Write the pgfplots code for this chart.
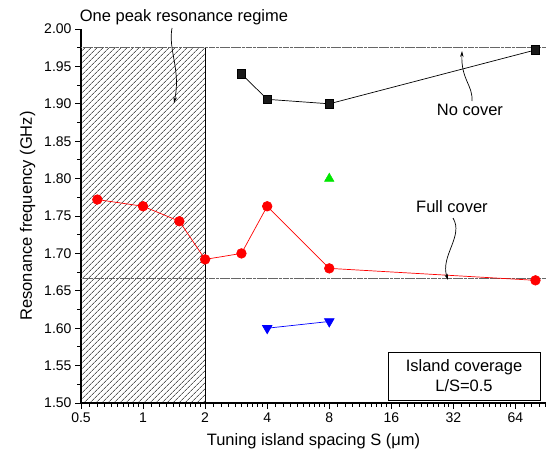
\documentclass[border=0pt]{standalone}
\usepackage{pgfplots}
\pgfplotsset{compat=1.18}
\usepackage{fontspec}
\setmainfont{Liberation Sans}
\usetikzlibrary{patterns.meta,arrows.meta}
\definecolor{mygreen}{RGB}{0,230,0}
\pgfplotsset{every tick/.style={black, line width=0.9pt}}
\begin{document}
\begin{tikzpicture}
\begin{axis}[
 scale only axis, width=465pt, height=374pt,
 xmode=log, log basis x=2, xmin=0.5, xmax=90,
 ymin=1.5, ymax=2.0,
 axis lines=left,
 axis line style={-, line width=1.1pt},
 xtick={0.5,1,2,4,8,16,32,64}, xticklabels={0.5,1,2,4,8,16,32,64},
 ytick={1.5,1.55,1.6,1.65,1.7,1.75,1.8,1.85,1.9,1.95,2.0},
 yticklabel style={/pgf/number format/.cd,fixed,fixed zerofill,precision=2},
 /pgf/number format/assume math mode=true,
 tick align=outside,
 major tick length=6pt, minor tick length=3.5pt,
 ticklabel style={font=\fontsize{14}{16}\selectfont},
 label style={font=\fontsize{16.5}{19}\selectfont},
 xlabel={Tuning island spacing S (μm)},
 ylabel={Resonance frequency (GHz)},
 xlabel style={yshift=-4pt},
 ylabel style={yshift=2pt},
 clip=false,
]
\coordinate (O) at (rel axis cs:0,0);
% hatched region
\addplot[draw=none, pattern={Lines[angle=45,distance=4pt,line width=0.6pt]}, pattern color=black]
 coordinates {(0.5,1.5) (2,1.5) (2,1.975) (0.5,1.975)} -- cycle;
\addplot[black, line width=0.9pt] coordinates {(2,1.5) (2,1.975)};
% reference lines
\addplot[black!60, line width=0.7pt, dash pattern=on 1.2pt off 0.5pt on 0.5pt off 0.5pt on 0.5pt off 0.5pt]
 coordinates {(0.5,1.975) (90,1.975)};
\addplot[black!60, line width=0.7pt, dash pattern=on 1.2pt off 0.5pt on 0.5pt off 0.5pt on 0.5pt off 0.5pt]
 coordinates {(0.5,1.667) (90,1.667)};
% no cover
\addplot[black, line width=0.7pt, mark=square*, mark size=4.2pt, mark options={fill=black!90}]
 coordinates {(3,1.940) (4,1.906) (8,1.900) (80,1.972)};
% full cover
\addplot[red, line width=0.7pt, mark=*, mark size=4.8pt, mark options={fill=red}]
 coordinates {(0.6,1.772) (1,1.763) (1.5,1.743) (2,1.692) (3,1.700) (4,1.763) (8,1.680) (80,1.664)};
% green
\addplot[only marks, mygreen, mark=triangle*, mark size=5.5pt, mark options={fill=mygreen}]
 coordinates {(8,1.800)};
% blue
\addplot[blue, line width=0.7pt, mark=triangle*, mark size=5.5pt, mark options={fill=blue, rotate=180}]
 coordinates {(4,1.600) (8,1.609)};
% tick marks (axis decoration)
\pgfplotsinvokeforeach{0.5,1,2,4,8,16,32,64}{\draw[black, line width=0.9pt] (axis cs:#1,1.5) -- ++(0pt,-6pt);}
\pgfplotsinvokeforeach{0.55,0.6,0.65,0.7,0.75,0.8,0.85,0.9,0.95,
 1.1,1.2,1.3,1.4,1.5,1.6,1.7,1.8,1.9,
 2.2,2.4,2.6,2.8,3,3.2,3.4,3.6,3.8,
 4.4,4.8,5.2,5.6,6,6.4,6.8,7.2,7.6,
 8.8,9.6,10.4,11.2,12,12.8,13.6,14.4,15.2,
 17.6,19.2,20.8,22.4,24,25.6,27.2,28.8,30.4,
 35.2,38.4,41.6,44.8,48,51.2,54.4,57.6,60.8,
 70.4,76.8,83.2,89.6}{\draw[black, line width=0.9pt] (axis cs:#1,1.5) -- ++(0pt,-3.5pt);}
\pgfplotsinvokeforeach{1.5,1.55,1.6,1.65,1.7,1.75,1.8,1.85,1.9,1.95,2.0}{\draw[black, line width=0.9pt] (axis cs:0.5,#1) -- ++(-6pt,0pt);}
\pgfplotsinvokeforeach{1.525,1.575,1.625,1.675,1.725,1.775,1.825,1.875,1.925,1.975}{\draw[black, line width=0.9pt] (axis cs:0.5,#1) -- ++(-3.5pt,0pt);}
\end{axis}
\begin{scope}[shift={(O)}, xshift=-81pt, yshift=403pt, x=1pt, y=-1pt]
\node[font=\fontsize{16.5}{19}\selectfont] at (184,17) {One peak resonance regime};
\node[font=\fontsize{16.5}{19}\selectfont] at (470,110) {No cover};
\node[font=\fontsize{16.5}{19}\selectfont] at (452,207) {Full cover};
\draw[line width=0.7pt, -{Stealth[length=6pt,width=3.5pt]}] (172,28) .. controls (168,50) and (181,70) .. (174,103);
\draw[line width=0.7pt, -{Stealth[length=6pt,width=3.5pt]}] (472,101) .. controls (473,85) and (461,80) .. (462,51);
\draw[line width=0.7pt, -{Stealth[length=6pt,width=3.5pt]}] (453,218) .. controls (464,236) and (440,256) .. (448,280);
\node[draw, line width=0.8pt, fill=white, minimum width=152pt, minimum height=48pt, align=center,
 font=\fontsize{16.5}{20}\selectfont] at (464,376) {Island coverage\\L/S=0.5};
\pgfresetboundingbox
\path (0,0) rectangle (546,459);
\end{scope}
\end{tikzpicture}
\end{document}
